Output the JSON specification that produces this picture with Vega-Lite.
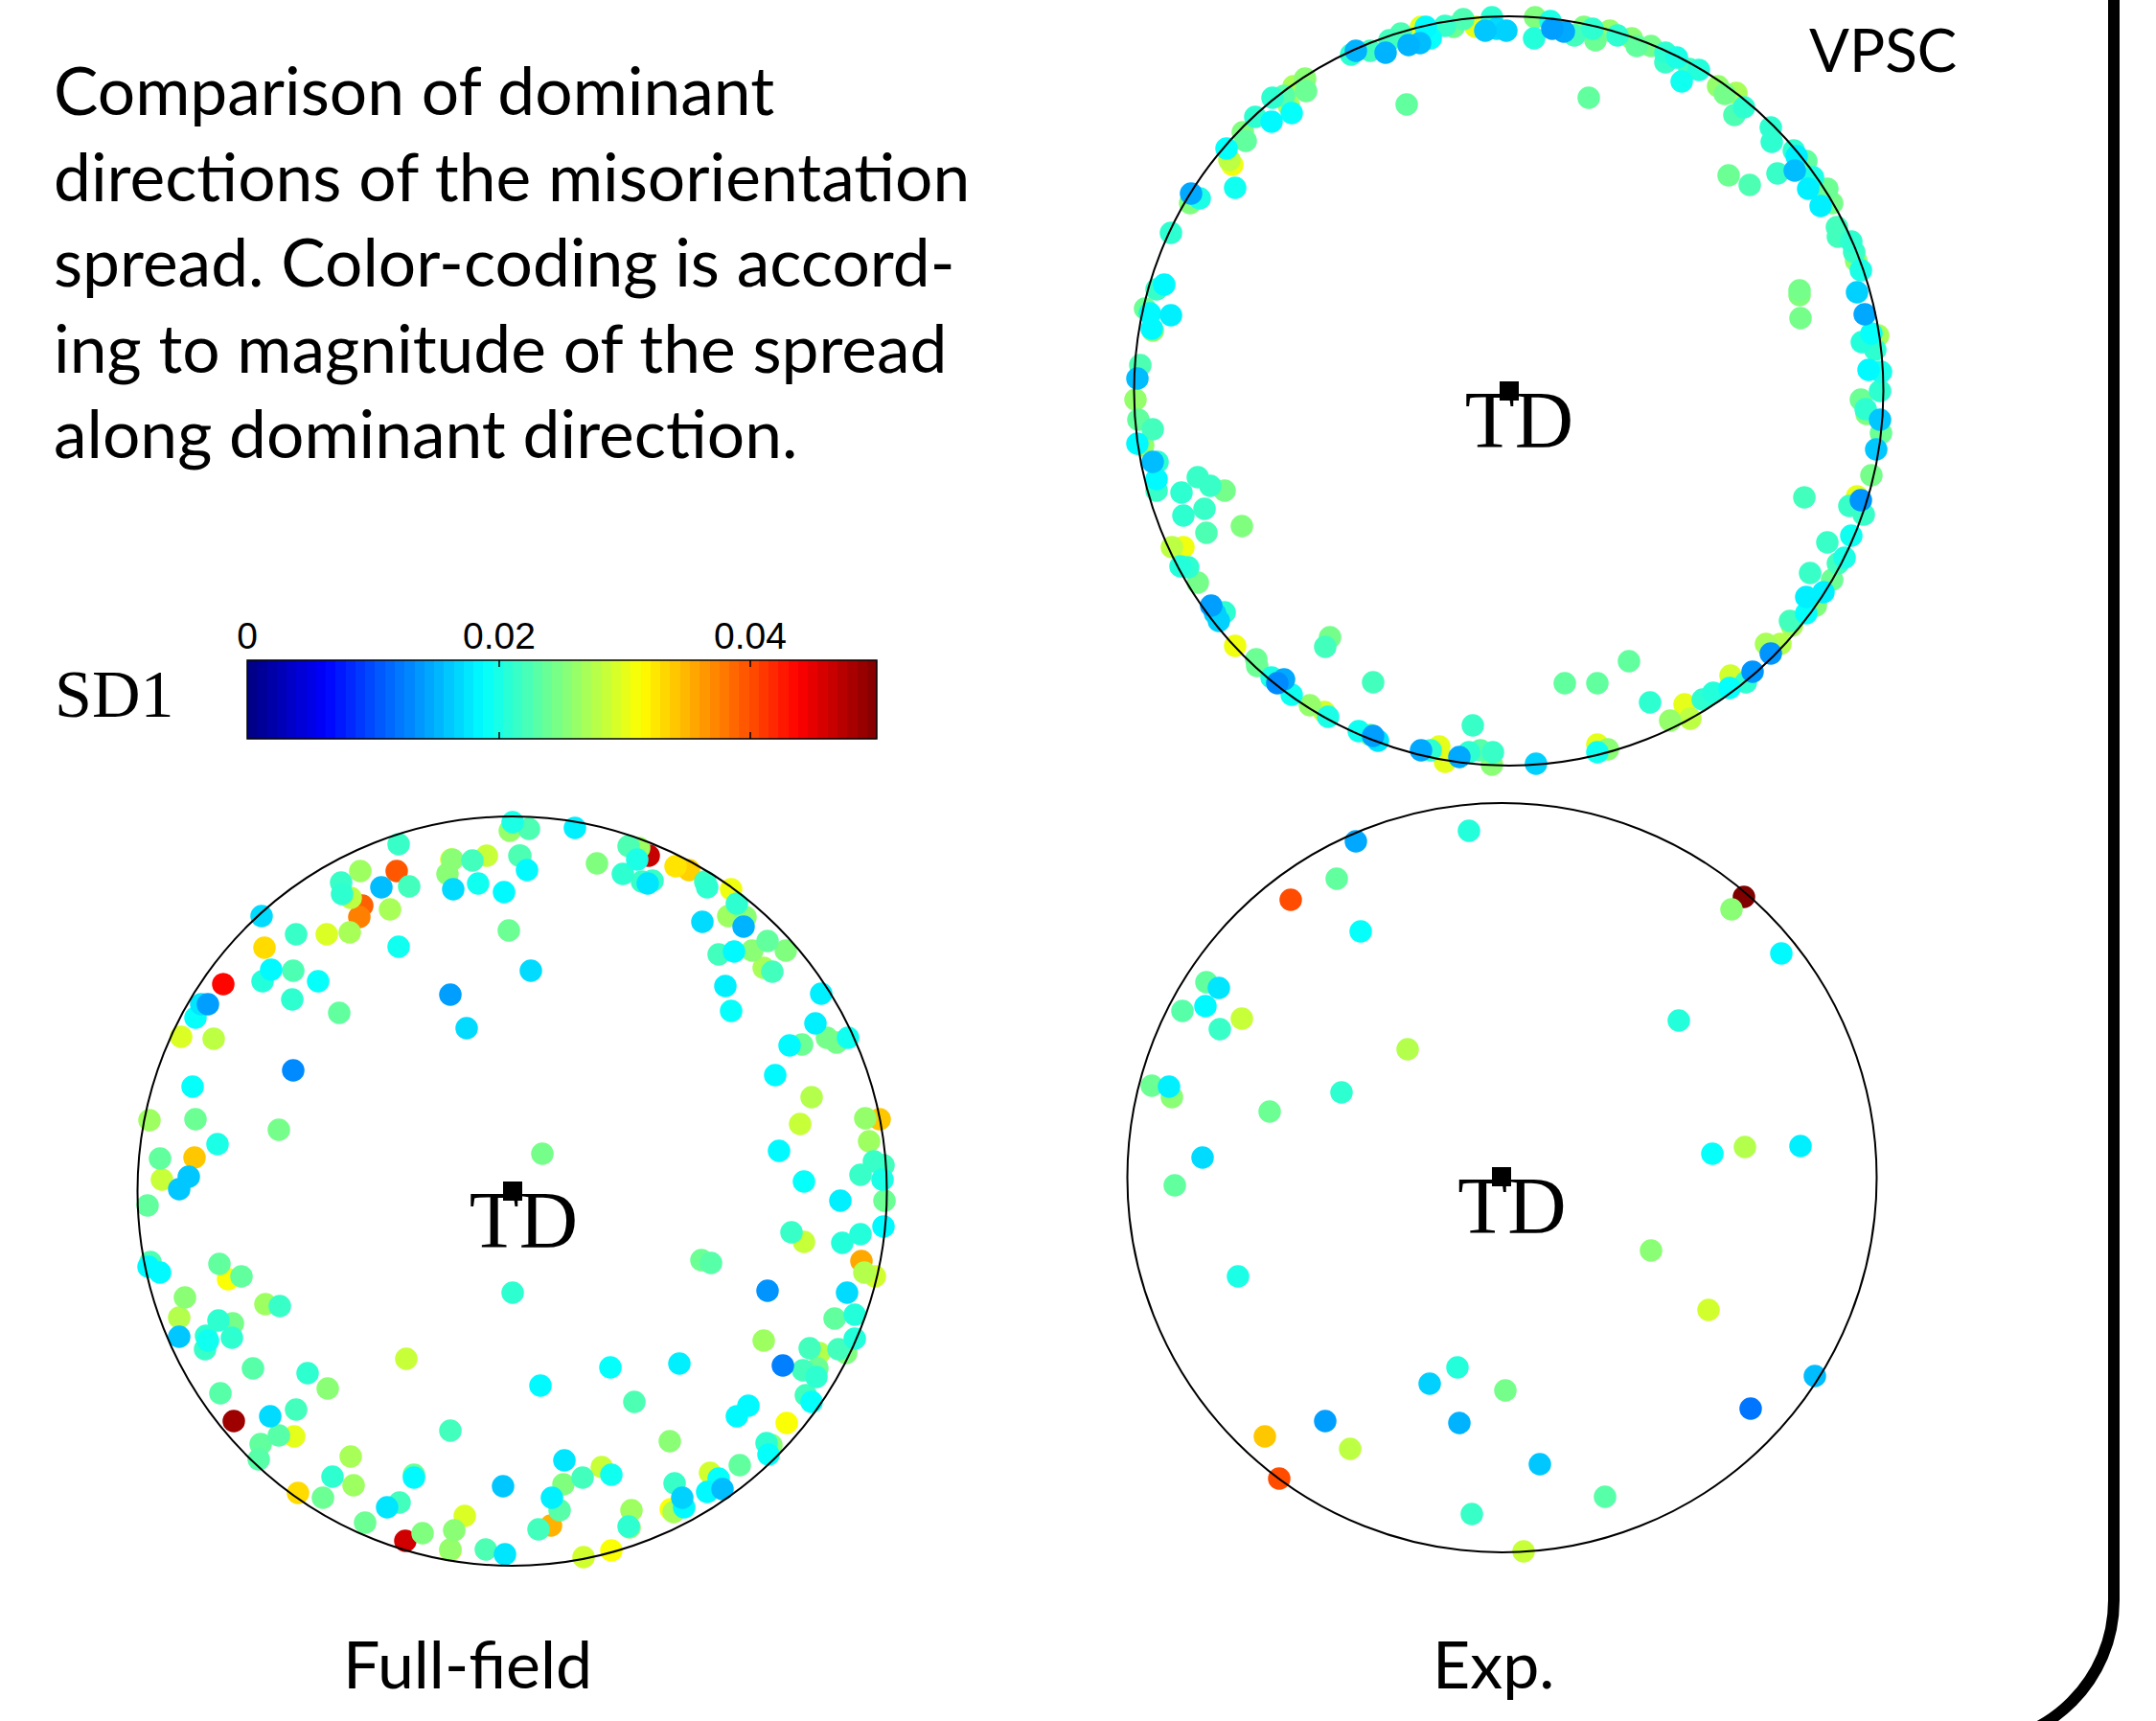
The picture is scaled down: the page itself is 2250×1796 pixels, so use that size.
{"$schema":"https://vega.github.io/schema/vega-lite/v6.json","width":2250,"height":1796,"autosize":{"type":"fit","contains":"padding"},"padding":0,"background":"white","config":{"view":{"stroke":null}},
"datasets":{"pts":[
{"panel":"VPSC","x":1557,"y":18,"sd1":0.021},{"panel":"VPSC","x":1550,"y":32,"sd1":0.016},{"panel":"VPSC","x":1572,"y":32,"sd1":0.0165},{"panel":"VPSC","x":1562,"y":30,"sd1":0.017},{"panel":"VPSC","x":1540,"y":28,"sd1":0.03},{"panel":"VPSC","x":1527,"y":20,"sd1":0.0225},{"panel":"VPSC","x":1517,"y":28,"sd1":0.024},{"panel":"VPSC","x":1508,"y":27,"sd1":0.0215},{"panel":"VPSC","x":1488,"y":28,"sd1":0.0185},{"panel":"VPSC","x":1483,"y":28,"sd1":0.03},{"panel":"VPSC","x":1493,"y":40,"sd1":0.019},{"panel":"VPSC","x":1482,"y":45,"sd1":0.0155},{"panel":"VPSC","x":1470,"y":47,"sd1":0.015},{"panel":"VPSC","x":1462,"y":35,"sd1":0.0225},{"panel":"VPSC","x":1450,"y":42,"sd1":0.022},{"panel":"VPSC","x":1446,"y":55,"sd1":0.015},{"panel":"VPSC","x":1430,"y":53,"sd1":0.022},{"panel":"VPSC","x":1415,"y":53,"sd1":0.015},{"panel":"VPSC","x":1410,"y":57,"sd1":0.021},{"panel":"VPSC","x":1468,"y":109,"sd1":0.0235},{"panel":"VPSC","x":1362,"y":82,"sd1":0.0255},{"panel":"VPSC","x":1363,"y":95,"sd1":0.024},{"panel":"VPSC","x":1350,"y":90,"sd1":0.027},{"panel":"VPSC","x":1340,"y":100,"sd1":0.023},{"panel":"VPSC","x":1328,"y":102,"sd1":0.021},{"panel":"VPSC","x":1348,"y":118,"sd1":0.019},{"panel":"VPSC","x":1327,"y":127,"sd1":0.0185},{"panel":"VPSC","x":1345,"y":110,"sd1":0.027},{"panel":"VPSC","x":1310,"y":122,"sd1":0.021},{"panel":"VPSC","x":1297,"y":138,"sd1":0.025},{"panel":"VPSC","x":1300,"y":147,"sd1":0.0235},{"panel":"VPSC","x":1280,"y":155,"sd1":0.019},{"panel":"VPSC","x":1283,"y":167,"sd1":0.028},{"panel":"VPSC","x":1286,"y":172,"sd1":0.0305},{"panel":"VPSC","x":1289,"y":196,"sd1":0.0195},{"panel":"VPSC","x":1243,"y":202,"sd1":0.0145},{"panel":"VPSC","x":1252,"y":207,"sd1":0.02},{"panel":"VPSC","x":1242,"y":212,"sd1":0.025},{"panel":"VPSC","x":1222,"y":243,"sd1":0.021},{"panel":"VPSC","x":1215,"y":297,"sd1":0.0185},{"panel":"VPSC","x":1207,"y":302,"sd1":0.0215},{"panel":"VPSC","x":1222,"y":329,"sd1":0.018},{"panel":"VPSC","x":1200,"y":327,"sd1":0.0185},{"panel":"VPSC","x":1195,"y":322,"sd1":0.024},{"panel":"VPSC","x":1202,"y":343,"sd1":0.0185},{"panel":"VPSC","x":1203,"y":345,"sd1":0.026},{"panel":"VPSC","x":1190,"y":381,"sd1":0.0225},{"panel":"VPSC","x":1187,"y":395,"sd1":0.0155},{"panel":"VPSC","x":1185,"y":417,"sd1":0.026},
{"panel":"VPSC","x":1602,"y":18,"sd1":0.025},{"panel":"VPSC","x":1618,"y":22,"sd1":0.02},{"panel":"VPSC","x":1601,"y":40,"sd1":0.0205},{"panel":"VPSC","x":1620,"y":30,"sd1":0.014},{"panel":"VPSC","x":1632,"y":33,"sd1":0.0145},{"panel":"VPSC","x":1643,"y":37,"sd1":0.022},{"panel":"VPSC","x":1653,"y":28,"sd1":0.025},{"panel":"VPSC","x":1665,"y":42,"sd1":0.024},{"panel":"VPSC","x":1662,"y":30,"sd1":0.021},{"panel":"VPSC","x":1680,"y":32,"sd1":0.026},{"panel":"VPSC","x":1688,"y":37,"sd1":0.021},{"panel":"VPSC","x":1703,"y":40,"sd1":0.0255},{"panel":"VPSC","x":1708,"y":48,"sd1":0.0235},{"panel":"VPSC","x":1723,"y":48,"sd1":0.0245},{"panel":"VPSC","x":1738,"y":55,"sd1":0.021},{"panel":"VPSC","x":1738,"y":65,"sd1":0.0215},{"panel":"VPSC","x":1750,"y":60,"sd1":0.02},{"panel":"VPSC","x":1755,"y":85,"sd1":0.0195},{"panel":"VPSC","x":1763,"y":72,"sd1":0.022},{"panel":"VPSC","x":1773,"y":73,"sd1":0.0205},{"panel":"VPSC","x":1793,"y":90,"sd1":0.026},{"panel":"VPSC","x":1800,"y":98,"sd1":0.0245},{"panel":"VPSC","x":1812,"y":97,"sd1":0.027},{"panel":"VPSC","x":1810,"y":120,"sd1":0.0225},{"panel":"VPSC","x":1820,"y":112,"sd1":0.021},{"panel":"VPSC","x":1658,"y":102,"sd1":0.0235},{"panel":"VPSC","x":1848,"y":133,"sd1":0.021},{"panel":"VPSC","x":1849,"y":148,"sd1":0.021},{"panel":"VPSC","x":1872,"y":157,"sd1":0.021},{"panel":"VPSC","x":1875,"y":163,"sd1":0.018},{"panel":"VPSC","x":1873,"y":178,"sd1":0.0155},{"panel":"VPSC","x":1855,"y":181,"sd1":0.0215},{"panel":"VPSC","x":1885,"y":168,"sd1":0.0235},{"panel":"VPSC","x":1887,"y":197,"sd1":0.018},{"panel":"VPSC","x":1892,"y":185,"sd1":0.02},{"panel":"VPSC","x":1907,"y":197,"sd1":0.024},{"panel":"VPSC","x":1912,"y":212,"sd1":0.0245},{"panel":"VPSC","x":1900,"y":215,"sd1":0.018},{"panel":"VPSC","x":1804,"y":183,"sd1":0.024},{"panel":"VPSC","x":1826,"y":193,"sd1":0.0225},{"panel":"VPSC","x":1917,"y":237,"sd1":0.022},{"panel":"VPSC","x":1918,"y":247,"sd1":0.022},{"panel":"VPSC","x":1932,"y":252,"sd1":0.021},{"panel":"VPSC","x":1935,"y":263,"sd1":0.0215},{"panel":"VPSC","x":1937,"y":272,"sd1":0.026},{"panel":"VPSC","x":1942,"y":282,"sd1":0.02},{"panel":"VPSC","x":1938,"y":305,"sd1":0.0165},{"panel":"VPSC","x":1946,"y":328,"sd1":0.0145},{"panel":"VPSC","x":1878,"y":303,"sd1":0.0245},{"panel":"VPSC","x":1878,"y":308,"sd1":0.025},{"panel":"VPSC","x":1879,"y":332,"sd1":0.0245},{"panel":"VPSC","x":1943,"y":357,"sd1":0.0205},{"panel":"VPSC","x":1953,"y":348,"sd1":0.019},{"panel":"VPSC","x":1960,"y":350,"sd1":0.027},{"panel":"VPSC","x":1957,"y":365,"sd1":0.021},{"panel":"VPSC","x":1950,"y":386,"sd1":0.0185},{"panel":"VPSC","x":1963,"y":388,"sd1":0.02},{"panel":"VPSC","x":1962,"y":408,"sd1":0.021},{"panel":"VPSC","x":1942,"y":417,"sd1":0.024},
{"panel":"VPSC","x":1188,"y":438,"sd1":0.0235},{"panel":"VPSC","x":1203,"y":448,"sd1":0.022},{"panel":"VPSC","x":1187,"y":463,"sd1":0.0185},{"panel":"VPSC","x":1193,"y":465,"sd1":0.026},{"panel":"VPSC","x":1208,"y":482,"sd1":0.021},{"panel":"VPSC","x":1203,"y":482,"sd1":0.0155},{"panel":"VPSC","x":1207,"y":500,"sd1":0.0185},{"panel":"VPSC","x":1207,"y":512,"sd1":0.0215},{"panel":"VPSC","x":1250,"y":498,"sd1":0.0215},{"panel":"VPSC","x":1263,"y":507,"sd1":0.0215},{"panel":"VPSC","x":1278,"y":512,"sd1":0.0245},{"panel":"VPSC","x":1233,"y":514,"sd1":0.021},{"panel":"VPSC","x":1257,"y":531,"sd1":0.0215},{"panel":"VPSC","x":1235,"y":538,"sd1":0.021},{"panel":"VPSC","x":1259,"y":556,"sd1":0.0225},{"panel":"VPSC","x":1296,"y":549,"sd1":0.025},{"panel":"VPSC","x":1223,"y":571,"sd1":0.028},{"panel":"VPSC","x":1235,"y":571,"sd1":0.0305},{"panel":"VPSC","x":1232,"y":591,"sd1":0.0205},{"panel":"VPSC","x":1240,"y":592,"sd1":0.021},{"panel":"VPSC","x":1250,"y":608,"sd1":0.0245},{"panel":"VPSC","x":1264,"y":632,"sd1":0.014},{"panel":"VPSC","x":1278,"y":639,"sd1":0.021},{"panel":"VPSC","x":1268,"y":640,"sd1":0.0165},{"panel":"VPSC","x":1272,"y":648,"sd1":0.0165},{"panel":"VPSC","x":1289,"y":674,"sd1":0.0305},{"panel":"VPSC","x":1311,"y":688,"sd1":0.024},{"panel":"VPSC","x":1312,"y":695,"sd1":0.024},{"panel":"VPSC","x":1327,"y":707,"sd1":0.02},{"panel":"VPSC","x":1340,"y":709,"sd1":0.0145},{"panel":"VPSC","x":1333,"y":713,"sd1":0.013},{"panel":"VPSC","x":1348,"y":725,"sd1":0.0195},{"panel":"VPSC","x":1367,"y":736,"sd1":0.026},{"panel":"VPSC","x":1382,"y":743,"sd1":0.029},{"panel":"VPSC","x":1386,"y":748,"sd1":0.02},{"panel":"VPSC","x":1388,"y":665,"sd1":0.0245},{"panel":"VPSC","x":1383,"y":675,"sd1":0.022},{"panel":"VPSC","x":1433,"y":712,"sd1":0.022},{"panel":"VPSC","x":1418,"y":763,"sd1":0.0195},{"panel":"VPSC","x":1430,"y":767,"sd1":0.024},{"panel":"VPSC","x":1433,"y":768,"sd1":0.014},{"panel":"VPSC","x":1438,"y":773,"sd1":0.0175},{"panel":"VPSC","x":1483,"y":783,"sd1":0.0145},{"panel":"VPSC","x":1493,"y":783,"sd1":0.021},{"panel":"VPSC","x":1502,"y":779,"sd1":0.03},{"panel":"VPSC","x":1508,"y":795,"sd1":0.03},{"panel":"VPSC","x":1523,"y":790,"sd1":0.0145},{"panel":"VPSC","x":1533,"y":785,"sd1":0.021},{"panel":"VPSC","x":1545,"y":783,"sd1":0.023},{"panel":"VPSC","x":1558,"y":785,"sd1":0.0215},{"panel":"VPSC","x":1557,"y":798,"sd1":0.0255},{"panel":"VPSC","x":1537,"y":757,"sd1":0.0215},
{"panel":"VPSC","x":1603,"y":797,"sd1":0.0165},{"panel":"VPSC","x":1667,"y":777,"sd1":0.03},{"panel":"VPSC","x":1667,"y":785,"sd1":0.0195},{"panel":"VPSC","x":1678,"y":782,"sd1":0.0255},{"panel":"VPSC","x":1633,"y":713,"sd1":0.0235},{"panel":"VPSC","x":1667,"y":713,"sd1":0.0235},{"panel":"VPSC","x":1700,"y":690,"sd1":0.0235},{"panel":"VPSC","x":1722,"y":733,"sd1":0.021},{"panel":"VPSC","x":1743,"y":752,"sd1":0.026},{"panel":"VPSC","x":1764,"y":750,"sd1":0.028},{"panel":"VPSC","x":1758,"y":735,"sd1":0.03},{"panel":"VPSC","x":1777,"y":730,"sd1":0.021},{"panel":"VPSC","x":1788,"y":723,"sd1":0.0205},{"panel":"VPSC","x":1805,"y":718,"sd1":0.019},{"panel":"VPSC","x":1806,"y":705,"sd1":0.029},{"panel":"VPSC","x":1822,"y":712,"sd1":0.021},{"panel":"VPSC","x":1829,"y":701,"sd1":0.0135},{"panel":"VPSC","x":1843,"y":672,"sd1":0.027},{"panel":"VPSC","x":1858,"y":672,"sd1":0.0275},{"panel":"VPSC","x":1848,"y":682,"sd1":0.0135},{"panel":"VPSC","x":1868,"y":648,"sd1":0.022},{"panel":"VPSC","x":1870,"y":653,"sd1":0.027},{"panel":"VPSC","x":1885,"y":640,"sd1":0.019},{"panel":"VPSC","x":1885,"y":623,"sd1":0.018},{"panel":"VPSC","x":1895,"y":632,"sd1":0.025},{"panel":"VPSC","x":1903,"y":618,"sd1":0.018},{"panel":"VPSC","x":1912,"y":605,"sd1":0.024},{"panel":"VPSC","x":1889,"y":598,"sd1":0.0215},{"panel":"VPSC","x":1918,"y":588,"sd1":0.022},{"panel":"VPSC","x":1925,"y":582,"sd1":0.02},{"panel":"VPSC","x":1907,"y":566,"sd1":0.0215},{"panel":"VPSC","x":1932,"y":559,"sd1":0.0195},{"panel":"VPSC","x":1930,"y":528,"sd1":0.0215},{"panel":"VPSC","x":1945,"y":537,"sd1":0.0215},{"panel":"VPSC","x":1938,"y":518,"sd1":0.03},{"panel":"VPSC","x":1942,"y":522,"sd1":0.0135},{"panel":"VPSC","x":1883,"y":519,"sd1":0.022},{"panel":"VPSC","x":1953,"y":496,"sd1":0.0245},{"panel":"VPSC","x":1958,"y":469,"sd1":0.016},{"panel":"VPSC","x":1963,"y":452,"sd1":0.024},{"panel":"VPSC","x":1962,"y":438,"sd1":0.016},{"panel":"VPSC","x":1948,"y":432,"sd1":0.025},{"panel":"VPSC","x":1947,"y":427,"sd1":0.021},
{"panel":"Full-field","x":535,"y":858,"sd1":0.02},{"panel":"Full-field","x":532,"y":867,"sd1":0.026},{"panel":"Full-field","x":416,"y":881,"sd1":0.0215},{"panel":"Full-field","x":508,"y":893,"sd1":0.0285},{"panel":"Full-field","x":472,"y":897,"sd1":0.0255},{"panel":"Full-field","x":471,"y":897,"sd1":0.03},{"panel":"Full-field","x":493,"y":898,"sd1":0.022},{"panel":"Full-field","x":467,"y":912,"sd1":0.0255},{"panel":"Full-field","x":376,"y":909,"sd1":0.0265},{"panel":"Full-field","x":414,"y":909,"sd1":0.0395},{"panel":"Full-field","x":356,"y":921,"sd1":0.0215},{"panel":"Full-field","x":357,"y":933,"sd1":0.021},{"panel":"Full-field","x":366,"y":937,"sd1":0.028},{"panel":"Full-field","x":398,"y":926,"sd1":0.0155},{"panel":"Full-field","x":427,"y":925,"sd1":0.022},{"panel":"Full-field","x":473,"y":928,"sd1":0.017},{"panel":"Full-field","x":499,"y":922,"sd1":0.0195},{"panel":"Full-field","x":526,"y":931,"sd1":0.0185},{"panel":"Full-field","x":543,"y":893,"sd1":0.0225},{"panel":"Full-field","x":378,"y":945,"sd1":0.039},{"panel":"Full-field","x":375,"y":957,"sd1":0.0375},{"panel":"Full-field","x":407,"y":949,"sd1":0.027},{"panel":"Full-field","x":365,"y":973,"sd1":0.027},{"panel":"Full-field","x":341,"y":975,"sd1":0.0295},{"panel":"Full-field","x":309,"y":975,"sd1":0.0215},{"panel":"Full-field","x":273,"y":956,"sd1":0.017},{"panel":"Full-field","x":416,"y":988,"sd1":0.0195},{"panel":"Full-field","x":531,"y":971,"sd1":0.024},{"panel":"Full-field","x":276,"y":989,"sd1":0.033},{"panel":"Full-field","x":283,"y":1012,"sd1":0.0185},{"panel":"Full-field","x":274,"y":1024,"sd1":0.0205},{"panel":"Full-field","x":306,"y":1013,"sd1":0.0225},{"panel":"Full-field","x":332,"y":1024,"sd1":0.019},{"panel":"Full-field","x":305,"y":1043,"sd1":0.021},{"panel":"Full-field","x":354,"y":1057,"sd1":0.0235},{"panel":"Full-field","x":233,"y":1027,"sd1":0.0435},{"panel":"Full-field","x":210,"y":1048,"sd1":0.0175},{"panel":"Full-field","x":217,"y":1048,"sd1":0.014},{"panel":"Full-field","x":204,"y":1062,"sd1":0.019},{"panel":"Full-field","x":189,"y":1082,"sd1":0.0295},{"panel":"Full-field","x":223,"y":1084,"sd1":0.028},{"panel":"Full-field","x":470,"y":1038,"sd1":0.014},{"panel":"Full-field","x":487,"y":1073,"sd1":0.017},{"panel":"Full-field","x":306,"y":1117,"sd1":0.013},{"panel":"Full-field","x":201,"y":1134,"sd1":0.019},{"panel":"Full-field","x":156,"y":1169,"sd1":0.0265},{"panel":"Full-field","x":204,"y":1168,"sd1":0.024},{"panel":"Full-field","x":291,"y":1179,"sd1":0.0245},{"panel":"Full-field","x":227,"y":1194,"sd1":0.02},{"panel":"Full-field","x":167,"y":1209,"sd1":0.0235},{"panel":"Full-field","x":203,"y":1208,"sd1":0.034},{"panel":"Full-field","x":197,"y":1228,"sd1":0.016},{"panel":"Full-field","x":169,"y":1231,"sd1":0.0285},{"panel":"Full-field","x":187,"y":1241,"sd1":0.016},{"panel":"Full-field","x":154,"y":1258,"sd1":0.0235},
{"panel":"Full-field","x":552,"y":865,"sd1":0.0225},{"panel":"Full-field","x":600,"y":864,"sd1":0.018},{"panel":"Full-field","x":542,"y":893,"sd1":0.0225},{"panel":"Full-field","x":550,"y":908,"sd1":0.0185},{"panel":"Full-field","x":623,"y":901,"sd1":0.025},{"panel":"Full-field","x":656,"y":883,"sd1":0.0225},{"panel":"Full-field","x":667,"y":885,"sd1":0.0265},{"panel":"Full-field","x":677,"y":893,"sd1":0.0465},{"panel":"Full-field","x":665,"y":897,"sd1":0.02},{"panel":"Full-field","x":650,"y":912,"sd1":0.021},{"panel":"Full-field","x":670,"y":920,"sd1":0.0215},{"panel":"Full-field","x":681,"y":919,"sd1":0.0215},{"panel":"Full-field","x":676,"y":922,"sd1":0.0175},{"panel":"Full-field","x":705,"y":904,"sd1":0.0325},{"panel":"Full-field","x":719,"y":908,"sd1":0.0335},{"panel":"Full-field","x":736,"y":920,"sd1":0.0215},{"panel":"Full-field","x":738,"y":926,"sd1":0.021},{"panel":"Full-field","x":763,"y":928,"sd1":0.0305},{"panel":"Full-field","x":769,"y":943,"sd1":0.021},{"panel":"Full-field","x":760,"y":956,"sd1":0.0265},{"panel":"Full-field","x":778,"y":957,"sd1":0.0255},{"panel":"Full-field","x":776,"y":967,"sd1":0.015},{"panel":"Full-field","x":733,"y":962,"sd1":0.017},{"panel":"Full-field","x":750,"y":996,"sd1":0.022},{"panel":"Full-field","x":766,"y":993,"sd1":0.0185},{"panel":"Full-field","x":785,"y":992,"sd1":0.0255},{"panel":"Full-field","x":801,"y":982,"sd1":0.0235},{"panel":"Full-field","x":820,"y":992,"sd1":0.025},{"panel":"Full-field","x":797,"y":1010,"sd1":0.027},{"panel":"Full-field","x":806,"y":1014,"sd1":0.022},{"panel":"Full-field","x":757,"y":1029,"sd1":0.018},{"panel":"Full-field","x":763,"y":1055,"sd1":0.019},{"panel":"Full-field","x":554,"y":1013,"sd1":0.017},{"panel":"Full-field","x":857,"y":1037,"sd1":0.018},{"panel":"Full-field","x":851,"y":1068,"sd1":0.018},{"panel":"Full-field","x":863,"y":1083,"sd1":0.0245},{"panel":"Full-field","x":873,"y":1088,"sd1":0.0245},{"panel":"Full-field","x":885,"y":1083,"sd1":0.0195},{"panel":"Full-field","x":824,"y":1091,"sd1":0.0185},{"panel":"Full-field","x":837,"y":1090,"sd1":0.024},{"panel":"Full-field","x":809,"y":1122,"sd1":0.0185},{"panel":"Full-field","x":847,"y":1145,"sd1":0.0275},{"panel":"Full-field","x":835,"y":1173,"sd1":0.0285},{"panel":"Full-field","x":903,"y":1167,"sd1":0.026},{"panel":"Full-field","x":918,"y":1168,"sd1":0.034},{"panel":"Full-field","x":907,"y":1191,"sd1":0.0265},{"panel":"Full-field","x":912,"y":1212,"sd1":0.0215},{"panel":"Full-field","x":922,"y":1216,"sd1":0.022},{"panel":"Full-field","x":898,"y":1226,"sd1":0.0215},{"panel":"Full-field","x":921,"y":1231,"sd1":0.02},{"panel":"Full-field","x":813,"y":1201,"sd1":0.0185},{"panel":"Full-field","x":839,"y":1233,"sd1":0.019},{"panel":"Full-field","x":877,"y":1253,"sd1":0.018},{"panel":"Full-field","x":923,"y":1253,"sd1":0.024},{"panel":"Full-field","x":566,"y":1204,"sd1":0.0245},
{"panel":"Full-field","x":157,"y":1317,"sd1":0.0225},{"panel":"Full-field","x":155,"y":1322,"sd1":0.0185},{"panel":"Full-field","x":167,"y":1328,"sd1":0.0185},{"panel":"Full-field","x":229,"y":1319,"sd1":0.0235},{"panel":"Full-field","x":238,"y":1335,"sd1":0.031},{"panel":"Full-field","x":252,"y":1332,"sd1":0.0235},{"panel":"Full-field","x":193,"y":1354,"sd1":0.0255},{"panel":"Full-field","x":187,"y":1375,"sd1":0.0275},{"panel":"Full-field","x":187,"y":1395,"sd1":0.016},{"panel":"Full-field","x":277,"y":1361,"sd1":0.0265},{"panel":"Full-field","x":292,"y":1363,"sd1":0.0215},{"panel":"Full-field","x":535,"y":1349,"sd1":0.021},{"panel":"Full-field","x":228,"y":1378,"sd1":0.021},{"panel":"Full-field","x":243,"y":1381,"sd1":0.0245},{"panel":"Full-field","x":242,"y":1396,"sd1":0.021},{"panel":"Full-field","x":215,"y":1394,"sd1":0.021},{"panel":"Full-field","x":217,"y":1399,"sd1":0.0195},{"panel":"Full-field","x":214,"y":1408,"sd1":0.0215},{"panel":"Full-field","x":264,"y":1428,"sd1":0.023},{"panel":"Full-field","x":321,"y":1433,"sd1":0.021},{"panel":"Full-field","x":342,"y":1449,"sd1":0.0255},{"panel":"Full-field","x":424,"y":1418,"sd1":0.0285},{"panel":"Full-field","x":230,"y":1454,"sd1":0.023},{"panel":"Full-field","x":244,"y":1483,"sd1":0.0485},{"panel":"Full-field","x":282,"y":1478,"sd1":0.017},{"panel":"Full-field","x":309,"y":1471,"sd1":0.022},{"panel":"Full-field","x":291,"y":1498,"sd1":0.023},{"panel":"Full-field","x":307,"y":1499,"sd1":0.03},{"panel":"Full-field","x":272,"y":1507,"sd1":0.0235},{"panel":"Full-field","x":270,"y":1523,"sd1":0.023},{"panel":"Full-field","x":366,"y":1520,"sd1":0.027},{"panel":"Full-field","x":470,"y":1493,"sd1":0.022},{"panel":"Full-field","x":347,"y":1541,"sd1":0.021},{"panel":"Full-field","x":369,"y":1550,"sd1":0.0265},{"panel":"Full-field","x":432,"y":1539,"sd1":0.024},{"panel":"Full-field","x":432,"y":1542,"sd1":0.0185},{"panel":"Full-field","x":311,"y":1558,"sd1":0.033},{"panel":"Full-field","x":337,"y":1563,"sd1":0.024},{"panel":"Full-field","x":417,"y":1568,"sd1":0.022},{"panel":"Full-field","x":404,"y":1573,"sd1":0.0175},{"panel":"Full-field","x":525,"y":1551,"sd1":0.016},{"panel":"Full-field","x":485,"y":1582,"sd1":0.0295},{"panel":"Full-field","x":381,"y":1589,"sd1":0.024},{"panel":"Full-field","x":441,"y":1600,"sd1":0.025},{"panel":"Full-field","x":423,"y":1608,"sd1":0.046},{"panel":"Full-field","x":474,"y":1597,"sd1":0.0255},{"panel":"Full-field","x":470,"y":1618,"sd1":0.03},{"panel":"Full-field","x":470,"y":1617,"sd1":0.026},{"panel":"Full-field","x":507,"y":1617,"sd1":0.0225},{"panel":"Full-field","x":527,"y":1622,"sd1":0.0175},
{"panel":"Full-field","x":826,"y":1286,"sd1":0.0215},{"panel":"Full-field","x":839,"y":1296,"sd1":0.0285},{"panel":"Full-field","x":898,"y":1288,"sd1":0.0205},{"panel":"Full-field","x":879,"y":1297,"sd1":0.0205},{"panel":"Full-field","x":922,"y":1280,"sd1":0.0185},{"panel":"Full-field","x":899,"y":1316,"sd1":0.0355},{"panel":"Full-field","x":902,"y":1328,"sd1":0.0275},{"panel":"Full-field","x":913,"y":1332,"sd1":0.029},{"panel":"Full-field","x":732,"y":1315,"sd1":0.024},{"panel":"Full-field","x":742,"y":1318,"sd1":0.023},{"panel":"Full-field","x":801,"y":1347,"sd1":0.0135},{"panel":"Full-field","x":884,"y":1349,"sd1":0.017},{"panel":"Full-field","x":892,"y":1372,"sd1":0.0205},{"panel":"Full-field","x":871,"y":1376,"sd1":0.0235},{"panel":"Full-field","x":797,"y":1399,"sd1":0.0265},{"panel":"Full-field","x":892,"y":1397,"sd1":0.0205},{"panel":"Full-field","x":875,"y":1408,"sd1":0.022},{"panel":"Full-field","x":883,"y":1412,"sd1":0.025},{"panel":"Full-field","x":845,"y":1407,"sd1":0.022},{"panel":"Full-field","x":855,"y":1412,"sd1":0.0275},{"panel":"Full-field","x":817,"y":1425,"sd1":0.0125},{"panel":"Full-field","x":838,"y":1430,"sd1":0.022},{"panel":"Full-field","x":852,"y":1437,"sd1":0.021},{"panel":"Full-field","x":853,"y":1428,"sd1":0.024},{"panel":"Full-field","x":841,"y":1456,"sd1":0.022},{"panel":"Full-field","x":847,"y":1463,"sd1":0.019},{"panel":"Full-field","x":709,"y":1423,"sd1":0.018},{"panel":"Full-field","x":637,"y":1427,"sd1":0.019},{"panel":"Full-field","x":564,"y":1446,"sd1":0.0185},{"panel":"Full-field","x":662,"y":1463,"sd1":0.0225},{"panel":"Full-field","x":781,"y":1467,"sd1":0.0185},{"panel":"Full-field","x":769,"y":1478,"sd1":0.0185},{"panel":"Full-field","x":821,"y":1485,"sd1":0.031},{"panel":"Full-field","x":699,"y":1504,"sd1":0.0255},{"panel":"Full-field","x":805,"y":1508,"sd1":0.0255},{"panel":"Full-field","x":800,"y":1506,"sd1":0.021},{"panel":"Full-field","x":802,"y":1518,"sd1":0.019},{"panel":"Full-field","x":772,"y":1529,"sd1":0.0235},{"panel":"Full-field","x":589,"y":1524,"sd1":0.0175},{"panel":"Full-field","x":608,"y":1542,"sd1":0.022},{"panel":"Full-field","x":628,"y":1531,"sd1":0.0285},{"panel":"Full-field","x":638,"y":1539,"sd1":0.0195},{"panel":"Full-field","x":588,"y":1549,"sd1":0.025},{"panel":"Full-field","x":576,"y":1563,"sd1":0.018},{"panel":"Full-field","x":584,"y":1576,"sd1":0.023},{"panel":"Full-field","x":575,"y":1592,"sd1":0.035},{"panel":"Full-field","x":562,"y":1596,"sd1":0.022},{"panel":"Full-field","x":659,"y":1576,"sd1":0.0265},{"panel":"Full-field","x":657,"y":1594,"sd1":0.026},{"panel":"Full-field","x":656,"y":1593,"sd1":0.021},{"panel":"Full-field","x":741,"y":1537,"sd1":0.029},{"panel":"Full-field","x":704,"y":1548,"sd1":0.0215},{"panel":"Full-field","x":750,"y":1543,"sd1":0.019},{"panel":"Full-field","x":738,"y":1557,"sd1":0.0185},{"panel":"Full-field","x":754,"y":1554,"sd1":0.0155},{"panel":"Full-field","x":712,"y":1563,"sd1":0.0165},{"panel":"Full-field","x":714,"y":1573,"sd1":0.0185},{"panel":"Full-field","x":700,"y":1575,"sd1":0.031},{"panel":"Full-field","x":703,"y":1578,"sd1":0.027},{"panel":"Full-field","x":609,"y":1625,"sd1":0.029},{"panel":"Full-field","x":638,"y":1618,"sd1":0.031},
{"panel":"Exp.","x":1533,"y":867,"sd1":0.0205},{"panel":"Exp.","x":1415,"y":878,"sd1":0.0145},{"panel":"Exp.","x":1395,"y":917,"sd1":0.0235},{"panel":"Exp.","x":1347,"y":939,"sd1":0.04},{"panel":"Exp.","x":1820,"y":936,"sd1":0.05},{"panel":"Exp.","x":1807,"y":949,"sd1":0.0255},{"panel":"Exp.","x":1859,"y":995,"sd1":0.0185},{"panel":"Exp.","x":1420,"y":972,"sd1":0.019},{"panel":"Exp.","x":1259,"y":1025,"sd1":0.0235},{"panel":"Exp.","x":1272,"y":1031,"sd1":0.0175},{"panel":"Exp.","x":1258,"y":1050,"sd1":0.0185},{"panel":"Exp.","x":1234,"y":1055,"sd1":0.023},{"panel":"Exp.","x":1296,"y":1063,"sd1":0.0285},{"panel":"Exp.","x":1273,"y":1074,"sd1":0.0215},{"panel":"Exp.","x":1752,"y":1065,"sd1":0.0205},{"panel":"Exp.","x":1469,"y":1095,"sd1":0.0275},{"panel":"Exp.","x":1202,"y":1133,"sd1":0.024},{"panel":"Exp.","x":1223,"y":1145,"sd1":0.0255},{"panel":"Exp.","x":1220,"y":1134,"sd1":0.018},{"panel":"Exp.","x":1400,"y":1140,"sd1":0.021},{"panel":"Exp.","x":1325,"y":1160,"sd1":0.024},{"panel":"Exp.","x":1787,"y":1204,"sd1":0.019},{"panel":"Exp.","x":1821,"y":1197,"sd1":0.0275},{"panel":"Exp.","x":1879,"y":1196,"sd1":0.018},{"panel":"Exp.","x":1255,"y":1208,"sd1":0.017},{"panel":"Exp.","x":1226,"y":1237,"sd1":0.0235},{"panel":"Exp.","x":1723,"y":1305,"sd1":0.0255},{"panel":"Exp.","x":1292,"y":1332,"sd1":0.02},{"panel":"Exp.","x":1783,"y":1367,"sd1":0.029},{"panel":"Exp.","x":1894,"y":1436,"sd1":0.0155},{"panel":"Exp.","x":1521,"y":1427,"sd1":0.0205},{"panel":"Exp.","x":1492,"y":1444,"sd1":0.0165},{"panel":"Exp.","x":1571,"y":1451,"sd1":0.0245},{"panel":"Exp.","x":1523,"y":1485,"sd1":0.015},{"panel":"Exp.","x":1827,"y":1470,"sd1":0.012},{"panel":"Exp.","x":1383,"y":1483,"sd1":0.014},{"panel":"Exp.","x":1320,"y":1499,"sd1":0.034},{"panel":"Exp.","x":1409,"y":1512,"sd1":0.028},{"panel":"Exp.","x":1607,"y":1528,"sd1":0.016},{"panel":"Exp.","x":1335,"y":1543,"sd1":0.04},{"panel":"Exp.","x":1675,"y":1562,"sd1":0.023},{"panel":"Exp.","x":1536,"y":1580,"sd1":0.0215},{"panel":"Exp.","x":1590,"y":1619,"sd1":0.0285}
],
"bar":[{"x":258,"x2":268,"y":689,"y2":771,"sd1":0.00039},{"x":268,"x2":279,"y":689,"y2":771,"sd1":0.00117},{"x":279,"x2":289,"y":689,"y2":771,"sd1":0.00195},{"x":289,"x2":299,"y":689,"y2":771,"sd1":0.00273},{"x":299,"x2":309,"y":689,"y2":771,"sd1":0.00352},{"x":309,"x2":320,"y":689,"y2":771,"sd1":0.0043},{"x":320,"x2":330,"y":689,"y2":771,"sd1":0.00508},{"x":330,"x2":340,"y":689,"y2":771,"sd1":0.00586},{"x":340,"x2":350,"y":689,"y2":771,"sd1":0.00664},{"x":350,"x2":361,"y":689,"y2":771,"sd1":0.00742},{"x":361,"x2":371,"y":689,"y2":771,"sd1":0.0082},{"x":371,"x2":381,"y":689,"y2":771,"sd1":0.00898},{"x":381,"x2":391,"y":689,"y2":771,"sd1":0.00977},{"x":391,"x2":402,"y":689,"y2":771,"sd1":0.01055},{"x":402,"x2":412,"y":689,"y2":771,"sd1":0.01133},{"x":412,"x2":422,"y":689,"y2":771,"sd1":0.01211},{"x":422,"x2":433,"y":689,"y2":771,"sd1":0.01289},{"x":433,"x2":443,"y":689,"y2":771,"sd1":0.01367},{"x":443,"x2":453,"y":689,"y2":771,"sd1":0.01445},{"x":453,"x2":463,"y":689,"y2":771,"sd1":0.01523},{"x":463,"x2":474,"y":689,"y2":771,"sd1":0.01602},{"x":474,"x2":484,"y":689,"y2":771,"sd1":0.0168},{"x":484,"x2":494,"y":689,"y2":771,"sd1":0.01758},{"x":494,"x2":504,"y":689,"y2":771,"sd1":0.01836},{"x":504,"x2":515,"y":689,"y2":771,"sd1":0.01914},{"x":515,"x2":525,"y":689,"y2":771,"sd1":0.01992},{"x":525,"x2":535,"y":689,"y2":771,"sd1":0.0207},{"x":535,"x2":545,"y":689,"y2":771,"sd1":0.02148},{"x":545,"x2":556,"y":689,"y2":771,"sd1":0.02227},{"x":556,"x2":566,"y":689,"y2":771,"sd1":0.02305},{"x":566,"x2":576,"y":689,"y2":771,"sd1":0.02383},{"x":576,"x2":587,"y":689,"y2":771,"sd1":0.02461},{"x":587,"x2":597,"y":689,"y2":771,"sd1":0.02539},{"x":597,"x2":607,"y":689,"y2":771,"sd1":0.02617},{"x":607,"x2":617,"y":689,"y2":771,"sd1":0.02695},{"x":617,"x2":628,"y":689,"y2":771,"sd1":0.02773},{"x":628,"x2":638,"y":689,"y2":771,"sd1":0.02852},{"x":638,"x2":648,"y":689,"y2":771,"sd1":0.0293},{"x":648,"x2":658,"y":689,"y2":771,"sd1":0.03008},{"x":658,"x2":669,"y":689,"y2":771,"sd1":0.03086},{"x":669,"x2":679,"y":689,"y2":771,"sd1":0.03164},{"x":679,"x2":689,"y":689,"y2":771,"sd1":0.03242},{"x":689,"x2":699,"y":689,"y2":771,"sd1":0.0332},{"x":699,"x2":710,"y":689,"y2":771,"sd1":0.03398},{"x":710,"x2":720,"y":689,"y2":771,"sd1":0.03477},{"x":720,"x2":730,"y":689,"y2":771,"sd1":0.03555},{"x":730,"x2":741,"y":689,"y2":771,"sd1":0.03633},{"x":741,"x2":751,"y":689,"y2":771,"sd1":0.03711},{"x":751,"x2":761,"y":689,"y2":771,"sd1":0.03789},{"x":761,"x2":771,"y":689,"y2":771,"sd1":0.03867},{"x":771,"x2":782,"y":689,"y2":771,"sd1":0.03945},{"x":782,"x2":792,"y":689,"y2":771,"sd1":0.04023},{"x":792,"x2":802,"y":689,"y2":771,"sd1":0.04102},{"x":802,"x2":812,"y":689,"y2":771,"sd1":0.0418},{"x":812,"x2":823,"y":689,"y2":771,"sd1":0.04258},{"x":823,"x2":833,"y":689,"y2":771,"sd1":0.04336},{"x":833,"x2":843,"y":689,"y2":771,"sd1":0.04414},{"x":843,"x2":853,"y":689,"y2":771,"sd1":0.04492},{"x":853,"x2":864,"y":689,"y2":771,"sd1":0.0457},{"x":864,"x2":874,"y":689,"y2":771,"sd1":0.04648},{"x":874,"x2":884,"y":689,"y2":771,"sd1":0.04727},{"x":884,"x2":895,"y":689,"y2":771,"sd1":0.04805},{"x":895,"x2":905,"y":689,"y2":771,"sd1":0.04883},{"x":905,"x2":915,"y":689,"y2":771,"sd1":0.04961}],
"centres":[{"panel":"VPSC","x":1574.5,"y":408,"sx":1575,"sy":408},{"panel":"Full-field","x":534.5,"y":1243,"sx":535,"sy":1243},{"panel":"Exp.","x":1567.5,"y":1229,"sx":1567,"sy":1228}],
"td":[{"label":"TD","x":1585.5,"y":467},{"label":"TD","x":546.5,"y":1302},{"label":"TD","x":1578,"y":1287}],
"para":[{"label":"Comparison of dominant","x":56,"y":120},{"label":"directions of the misorientation","x":56,"y":210},{"label":"spread. Color-coding is accord-","x":56,"y":299},{"label":"ing to magnitude of the spread","x":56,"y":389},{"label":"along dominant direction.","x":56,"y":478}],
"caps":[{"label":"Full-field","x":358,"y":1762},{"label":"Exp.","x":1495,"y":1762}],
"barlabels":[{"label":"0","x":258,"y":677},{"label":"0.02","x":521,"y":677},{"label":"0.04","x":783,"y":677}],
"ticks":[{"x":521,"y":689,"y2":696},{"x":521,"y":764,"y2":771},{"x":783,"y":689,"y2":696},{"x":783,"y":764,"y2":771}]
},
"encoding":{"x":{"field":"x","type":"quantitative","scale":{"domain":[0,2250],"nice":false,"zero":false},"axis":null},"y":{"field":"y","type":"quantitative","scale":{"domain":[1796,0],"nice":false,"zero":false},"axis":null}},
"layer":[
{"data":{"values":[{"x":-400,"x2":2206,"y":-400,"y2":1820}]},"mark":{"type":"rect","clip":true,"fillOpacity":0,"stroke":"black","strokeWidth":12,"cornerRadius":150},"encoding":{"x2":{"field":"x2"},"y2":{"field":"y2"}}},
{"data":{"name":"pts"},"mark":{"type":"circle","size":552,"opacity":1},"encoding":{"order":{"field":"sd1","sort":"descending"},"color":{"field":"sd1","type":"quantitative","scale":{"domain":[0,0.00625,0.01875,0.03125,0.04375,0.05],"range":["#000080","#0000ff","#00ffff","#ffff00","#ff0000","#800000"],"interpolate":"rgb"},"legend":null}}},
{"data":{"name":"bar"},"mark":{"type":"rect"},"encoding":{"y2":{"field":"y2"},"x2":{"field":"x2"},"color":{"field":"sd1","type":"quantitative","legend":null}}},
{"data":{"values":[{"x":258,"x2":915,"y":689,"y2":771}]},"mark":{"type":"rect","fillOpacity":0,"stroke":"black","strokeWidth":1.5},"encoding":{"x2":{"field":"x2"},"y2":{"field":"y2"}}},
{"data":{"name":"ticks"},"mark":{"type":"rule","color":"black","strokeWidth":1.5},"encoding":{"y2":{"field":"y2"}}},
{"data":{"name":"barlabels"},"mark":{"type":"text","font":"Liberation Sans","fontSize":39,"align":"center","baseline":"alphabetic","color":"black"},"encoding":{"text":{"field":"label"}}},
{"data":{"name":"centres"},"mark":{"type":"point","shape":"circle","size":611524,"filled":false,"stroke":"black","strokeWidth":2,"opacity":1}},
{"data":{"name":"centres"},"mark":{"type":"square","size":400,"color":"black","opacity":1},"encoding":{"x":{"field":"sx","type":"quantitative"},"y":{"field":"sy","type":"quantitative"}}},
{"data":{"name":"td"},"mark":{"type":"text","font":"Liberation Serif","fontSize":85,"align":"center","baseline":"alphabetic","color":"black"},"encoding":{"text":{"field":"label"}}},
{"data":{"name":"para"},"mark":{"type":"text","font":"Lato","fontSize":69.5,"align":"left","baseline":"alphabetic","color":"black"},"encoding":{"text":{"field":"label"}}},
{"data":{"name":"caps"},"mark":{"type":"text","font":"Lato","fontSize":68,"align":"left","baseline":"alphabetic","color":"black"},"encoding":{"text":{"field":"label"}}},
{"data":{"values":[{"label":"VPSC","x":1888,"y":75}]},"mark":{"type":"text","font":"Lato","fontSize":62,"align":"left","baseline":"alphabetic","color":"black"},"encoding":{"text":{"field":"label"}}},
{"data":{"values":[{"label":"SD1","x":57,"y":748}]},"mark":{"type":"text","font":"Liberation Serif","fontSize":70,"align":"left","baseline":"alphabetic","color":"black"},"encoding":{"text":{"field":"label"}}}
]}
